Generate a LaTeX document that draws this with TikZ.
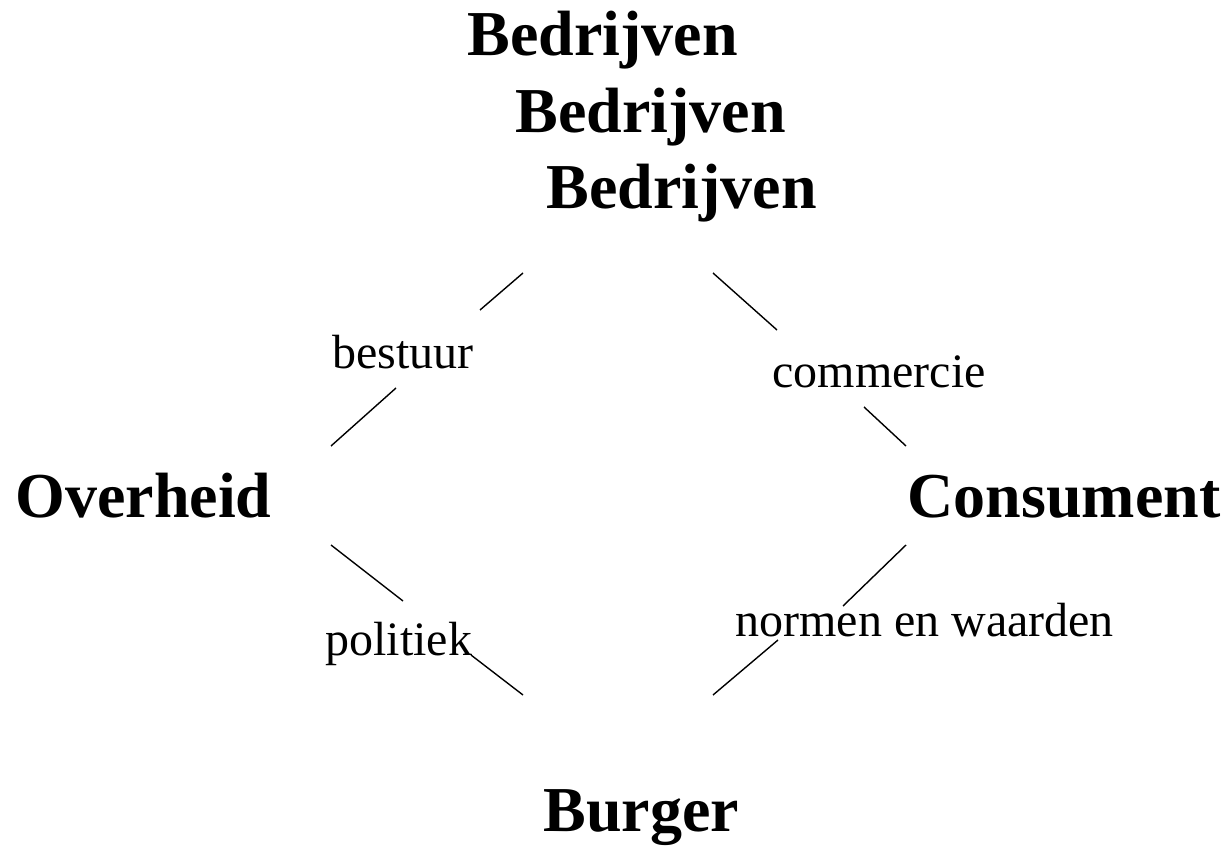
\documentclass[tikz,border=0pt]{standalone}
\usepackage{fontspec}
\setmainfont{Liberation Serif}

\begin{document}
\begin{tikzpicture}[x=.5pt,y=-.5pt,
	groot/.style={anchor=base west,inner sep=0pt,font=\fontsize{32}{38}\selectfont\bfseries},
	klein/.style={anchor=base west,inner sep=0pt,font=\fontsize{24}{29}\selectfont},
	lijn/.style={line width=.7pt}]
\useasboundingbox (0,0) rectangle (1230,845);
% actoren
\node (bedr1) at (467,56) [groot] {Bedrijven};
\node (bedr2) at (515,133) [groot] {Bedrijven};
\node (bedr3) at (546,209) [groot] {Bedrijven};
\node (overh) at (15,517) [groot] {Overheid};
\node (cons) at (907,517) [groot] {Consument};
\node (burg) at (543,831) [groot] {Burger};
% relaties
\node (best) at (332,368) [klein] {bestuur};
\node (comm) at (772,387) [klein] {commercie};
\node (poli) at (325,655) [klein] {politiek};
\node (norm) at (735,636) [klein] {normen en waarden};

\coordinate (a1) at (523,273); \coordinate (a2) at (480,310);
\coordinate (a3) at (396,388); \coordinate (a4) at (331,446);
\coordinate (b1) at (713,273); \coordinate (b2) at (777,330);
\coordinate (b3) at (864,407); \coordinate (b4) at (906,446);
\coordinate (c1) at (331,545); \coordinate (c2) at (403,601);
\coordinate (c3) at (471,655); \coordinate (c4) at (523,695);
\coordinate (d1) at (906,545); \coordinate (d2) at (843,606);
\coordinate (d3) at (778,640); \coordinate (d4) at (713,695);
\foreach \p in {a,b,c,d} {
	\draw[lijn] (\p1) -- (\p2);
	\draw[lijn] (\p3) -- (\p4);
	}
\end{tikzpicture}
\end{document}
